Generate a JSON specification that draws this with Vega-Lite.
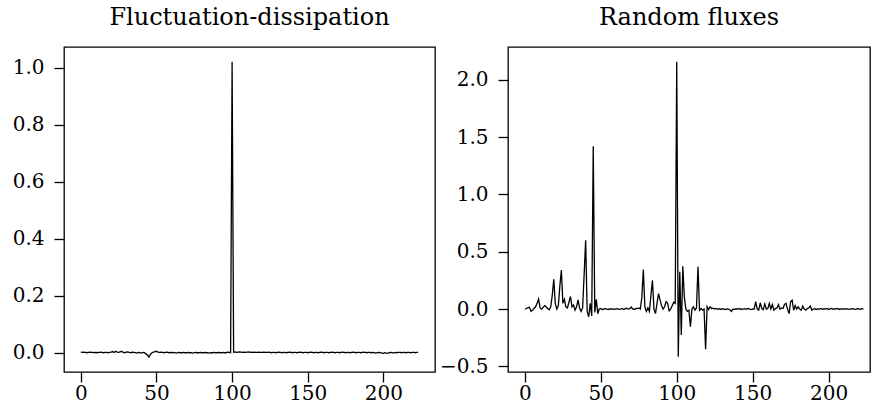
{
 "$schema": "https://vega.github.io/schema/vega-lite/v6.json",
 "padding": {"left": 5, "top": 5, "right": 0, "bottom": 0},
 "background": "white",
 "spacing": 2,
 "data": {"values": [
{"t":0,"fd":0.002,"rf":0.000},{"t":1,"fd":0.001,"rf":0.005},{"t":2,"fd":0.002,"rf":0.012},{"t":3,"fd":0.001,"rf":0.015},{"t":4,"fd":0.000,"rf":-0.020},
{"t":5,"fd":0.001,"rf":-0.008},{"t":6,"fd":0.002,"rf":0.005},{"t":7,"fd":0.001,"rf":0.020},{"t":8,"fd":0.001,"rf":0.050},{"t":9,"fd":0.000,"rf":0.087},
{"t":10,"fd":0.001,"rf":0.010},{"t":11,"fd":0.000,"rf":0.000},{"t":12,"fd":0.001,"rf":0.015},{"t":13,"fd":0.002,"rf":0.030},{"t":14,"fd":0.001,"rf":0.020},
{"t":15,"fd":0.000,"rf":0.005},{"t":16,"fd":0.001,"rf":-0.005},{"t":17,"fd":0.001,"rf":0.020},{"t":18,"fd":0.000,"rf":0.120},{"t":19,"fd":0.001,"rf":0.260},
{"t":20,"fd":0.002,"rf":0.050},{"t":21,"fd":0.004,"rf":0.000},{"t":22,"fd":0.001,"rf":0.030},{"t":23,"fd":0.005,"rf":0.200},{"t":24,"fd":0.002,"rf":0.340},
{"t":25,"fd":0.001,"rf":0.050},{"t":26,"fd":0.003,"rf":0.085},{"t":27,"fd":0.005,"rf":0.020},{"t":28,"fd":0.001,"rf":0.010},{"t":29,"fd":0.000,"rf":0.060},
{"t":30,"fd":0.002,"rf":0.110},{"t":31,"fd":0.003,"rf":0.020},{"t":32,"fd":0.001,"rf":0.035},{"t":33,"fd":0.000,"rf":-0.010},{"t":34,"fd":0.002,"rf":0.020},
{"t":35,"fd":0.001,"rf":0.080},{"t":36,"fd":0.000,"rf":0.010},{"t":37,"fd":-0.001,"rf":-0.020},{"t":38,"fd":0.001,"rf":0.010},{"t":39,"fd":0.000,"rf":0.300},
{"t":40,"fd":-0.001,"rf":0.600},{"t":41,"fd":0.001,"rf":-0.020},{"t":42,"fd":0.000,"rf":-0.067},{"t":43,"fd":-0.004,"rf":0.050},{"t":44,"fd":-0.008,"rf":-0.060},
{"t":45,"fd":-0.015,"rf":1.420},{"t":46,"fd":-0.006,"rf":-0.030},{"t":47,"fd":0.000,"rf":0.085},{"t":48,"fd":0.002,"rf":-0.040},{"t":49,"fd":0.004,"rf":0.000},
{"t":50,"fd":0.005,"rf":0.005},{"t":51,"fd":0.002,"rf":-0.005},{"t":52,"fd":0.001,"rf":0.002},{"t":53,"fd":0.002,"rf":0.004},{"t":54,"fd":0.001,"rf":0.000},
{"t":55,"fd":0.000,"rf":-0.004},{"t":56,"fd":0.001,"rf":0.003},{"t":57,"fd":0.002,"rf":0.000},{"t":58,"fd":0.000,"rf":0.002},{"t":59,"fd":0.001,"rf":-0.003},
{"t":60,"fd":0.000,"rf":0.001},{"t":61,"fd":0.001,"rf":0.004},{"t":62,"fd":0.000,"rf":-0.002},{"t":63,"fd":-0.001,"rf":0.000},{"t":64,"fd":0.000,"rf":0.005},
{"t":65,"fd":0.001,"rf":-0.004},{"t":66,"fd":0.000,"rf":0.002},{"t":67,"fd":0.000,"rf":0.008},{"t":68,"fd":0.001,"rf":0.000},{"t":69,"fd":0.000,"rf":0.003},
{"t":70,"fd":0.000,"rf":0.018},{"t":71,"fd":0.001,"rf":0.002},{"t":72,"fd":0.000,"rf":-0.003},{"t":73,"fd":0.000,"rf":0.006},{"t":74,"fd":-0.001,"rf":0.004},
{"t":75,"fd":0.000,"rf":0.010},{"t":76,"fd":0.001,"rf":0.000},{"t":77,"fd":0.000,"rf":0.100},{"t":78,"fd":0.000,"rf":0.346},{"t":79,"fd":0.001,"rf":0.020},
{"t":80,"fd":0.000,"rf":-0.020},{"t":81,"fd":0.000,"rf":0.010},{"t":82,"fd":0.001,"rf":-0.020},{"t":83,"fd":0.000,"rf":0.120},{"t":84,"fd":0.000,"rf":0.250},
{"t":85,"fd":-0.001,"rf":0.000},{"t":86,"fd":0.000,"rf":-0.040},{"t":87,"fd":0.000,"rf":0.050},{"t":88,"fd":0.001,"rf":0.135},{"t":89,"fd":0.000,"rf":0.080},
{"t":90,"fd":0.000,"rf":0.030},{"t":91,"fd":0.001,"rf":0.000},{"t":92,"fd":0.000,"rf":0.020},{"t":93,"fd":0.000,"rf":0.065},{"t":94,"fd":0.001,"rf":0.050},
{"t":95,"fd":0.000,"rf":-0.015},{"t":96,"fd":0.000,"rf":0.000},{"t":97,"fd":0.002,"rf":0.030},{"t":98,"fd":0.001,"rf":0.060},{"t":99,"fd":0.000,"rf":0.050},
{"t":100,"fd":1.021,"rf":2.158},{"t":101,"fd":0.002,"rf":-0.415},{"t":102,"fd":0.003,"rf":0.325},{"t":103,"fd":0.001,"rf":-0.226},{"t":104,"fd":0.002,"rf":0.374},
{"t":105,"fd":0.003,"rf":0.107},{"t":106,"fd":0.002,"rf":0.000},{"t":107,"fd":0.001,"rf":-0.020},{"t":108,"fd":0.002,"rf":-0.010},{"t":109,"fd":0.001,"rf":-0.154},
{"t":110,"fd":0.002,"rf":0.000},{"t":111,"fd":0.003,"rf":0.020},{"t":112,"fd":0.001,"rf":-0.010},{"t":113,"fd":0.002,"rf":0.010},{"t":114,"fd":0.001,"rf":0.369},
{"t":115,"fd":0.002,"rf":-0.010},{"t":116,"fd":0.001,"rf":0.005},{"t":117,"fd":0.001,"rf":-0.010},{"t":118,"fd":0.002,"rf":0.000},{"t":119,"fd":0.001,"rf":-0.351},
{"t":120,"fd":0.001,"rf":0.020},{"t":121,"fd":0.002,"rf":-0.005},{"t":122,"fd":0.001,"rf":0.020},{"t":123,"fd":0.001,"rf":0.005},{"t":124,"fd":0.002,"rf":0.008},
{"t":125,"fd":0.001,"rf":0.000},{"t":126,"fd":0.000,"rf":0.006},{"t":127,"fd":0.001,"rf":-0.002},{"t":128,"fd":0.001,"rf":0.004},{"t":129,"fd":0.000,"rf":-0.003},
{"t":130,"fd":0.001,"rf":0.003},{"t":131,"fd":0.002,"rf":0.000},{"t":132,"fd":0.001,"rf":-0.004},{"t":133,"fd":0.000,"rf":0.002},{"t":134,"fd":0.001,"rf":0.000},
{"t":135,"fd":0.001,"rf":-0.006},{"t":136,"fd":0.000,"rf":-0.020},{"t":137,"fd":0.001,"rf":0.000},{"t":138,"fd":0.002,"rf":-0.004},{"t":139,"fd":0.001,"rf":0.003},
{"t":140,"fd":0.000,"rf":0.000},{"t":141,"fd":0.001,"rf":0.005},{"t":142,"fd":0.001,"rf":-0.003},{"t":143,"fd":0.000,"rf":0.002},{"t":144,"fd":0.001,"rf":0.000},
{"t":145,"fd":0.002,"rf":0.004},{"t":146,"fd":0.001,"rf":-0.002},{"t":147,"fd":0.000,"rf":0.006},{"t":148,"fd":0.001,"rf":0.000},{"t":149,"fd":0.001,"rf":-0.004},
{"t":150,"fd":0.000,"rf":0.002},{"t":151,"fd":0.001,"rf":0.000},{"t":152,"fd":0.002,"rf":0.064},{"t":153,"fd":0.001,"rf":0.000},{"t":154,"fd":0.000,"rf":-0.010},
{"t":155,"fd":0.001,"rf":0.055},{"t":156,"fd":0.001,"rf":0.005},{"t":157,"fd":0.000,"rf":-0.005},{"t":158,"fd":0.001,"rf":0.045},{"t":159,"fd":0.002,"rf":0.000},
{"t":160,"fd":0.001,"rf":0.005},{"t":161,"fd":0.000,"rf":0.050},{"t":162,"fd":0.001,"rf":0.000},{"t":163,"fd":0.001,"rf":0.040},{"t":164,"fd":0.000,"rf":-0.010},
{"t":165,"fd":0.001,"rf":0.005},{"t":166,"fd":0.002,"rf":0.010},{"t":167,"fd":0.001,"rf":0.040},{"t":168,"fd":0.000,"rf":0.000},{"t":169,"fd":0.001,"rf":0.010},
{"t":170,"fd":0.001,"rf":0.005},{"t":171,"fd":0.000,"rf":0.040},{"t":172,"fd":0.001,"rf":0.050},{"t":173,"fd":0.002,"rf":0.000},{"t":174,"fd":0.001,"rf":-0.040},
{"t":175,"fd":0.000,"rf":0.064},{"t":176,"fd":0.001,"rf":0.078},{"t":177,"fd":0.001,"rf":-0.010},{"t":178,"fd":0.000,"rf":0.030},{"t":179,"fd":0.001,"rf":0.000},
{"t":180,"fd":0.002,"rf":0.020},{"t":181,"fd":0.001,"rf":0.000},{"t":182,"fd":0.000,"rf":-0.010},{"t":183,"fd":0.001,"rf":0.026},{"t":184,"fd":0.001,"rf":0.000},
{"t":185,"fd":0.000,"rf":-0.010},{"t":186,"fd":0.001,"rf":0.005},{"t":187,"fd":0.002,"rf":0.010},{"t":188,"fd":0.001,"rf":0.026},{"t":189,"fd":0.000,"rf":-0.010},
{"t":190,"fd":0.001,"rf":0.000},{"t":191,"fd":0.001,"rf":0.004},{"t":192,"fd":0.000,"rf":-0.003},{"t":193,"fd":0.001,"rf":0.002},{"t":194,"fd":0.000,"rf":0.000},
{"t":195,"fd":-0.001,"rf":0.006},{"t":196,"fd":0.000,"rf":-0.002},{"t":197,"fd":0.001,"rf":0.003},{"t":198,"fd":0.000,"rf":0.000},{"t":199,"fd":-0.001,"rf":0.005},
{"t":200,"fd":-0.002,"rf":-0.004},{"t":201,"fd":0.000,"rf":0.002},{"t":202,"fd":-0.001,"rf":0.006},{"t":203,"fd":-0.002,"rf":-0.002},{"t":204,"fd":0.000,"rf":0.004},
{"t":205,"fd":0.001,"rf":0.000},{"t":206,"fd":0.000,"rf":0.005},{"t":207,"fd":-0.001,"rf":-0.003},{"t":208,"fd":0.001,"rf":0.002},{"t":209,"fd":0.000,"rf":0.000},
{"t":210,"fd":0.001,"rf":0.004},{"t":211,"fd":0.001,"rf":-0.002},{"t":212,"fd":0.000,"rf":0.003},{"t":213,"fd":0.001,"rf":0.000},{"t":214,"fd":0.001,"rf":-0.003},
{"t":215,"fd":0.000,"rf":0.002},{"t":216,"fd":0.001,"rf":0.004},{"t":217,"fd":0.001,"rf":0.000},{"t":218,"fd":0.000,"rf":-0.002},{"t":219,"fd":0.001,"rf":0.003},
{"t":220,"fd":0.001,"rf":0.001},{"t":221,"fd":0.000,"rf":-0.002},{"t":222,"fd":0.001,"rf":0.004},{"t":223,"fd":0.001,"rf":0.002}
 ]},
 "config": {
  "font": "DejaVu Serif",
  "view": {"stroke": "black", "strokeWidth": 1.3},
  "axis": {"domain": false, "grid": false, "tickColor": "black", "tickSize": 10, "tickWidth": 1.3, "labelColor": "black", "labelFont": "DejaVu Serif", "labelFontSize": 20, "labelPadding": 10},
  "axisX": {"labelPadding": 1},
  "title": {"font": "DejaVu Serif", "fontSize": 24, "fontWeight": "normal", "color": "black", "baseline": "alphabetic", "offset": 17}
 },
 "hconcat": [
  {
   "width": 371, "height": 325,
   "title": "Fluctuation-dissipation",
   "mark": {"type": "line", "color": "black", "strokeWidth": 1.3, "clip": true},
   "encoding": {
    "x": {"field": "t", "type": "quantitative", "scale": {"domain": [-11.15, 234.15], "nice": false, "zero": false}, "axis": {"title": null, "values": [0, 50, 100, 150, 200], "labelFlush": false, "labelOverlap": false}},
    "y": {"field": "fd", "type": "quantitative", "scale": {"domain": [-0.0676, 1.0725], "nice": false, "zero": false}, "axis": {"title": null, "values": [0, 0.2, 0.4, 0.6, 0.8, 1.0], "format": ".1f", "minExtent": 58, "maxExtent": 58}}
   }
  },
  {
   "width": 362, "height": 325,
   "title": "Random fluxes",
   "mark": {"type": "line", "color": "black", "strokeWidth": 1.3, "clip": true},
   "encoding": {
    "x": {"field": "t", "type": "quantitative", "scale": {"domain": [-11.15, 227.3], "nice": false, "zero": false}, "axis": {"title": null, "values": [0, 50, 100, 150, 200], "labelFlush": false, "labelOverlap": false}},
    "y": {"field": "rf", "type": "quantitative", "scale": {"domain": [-0.549, 2.287], "nice": false, "zero": false}, "axis": {"title": null, "values": [-0.5, 0, 0.5, 1.0, 1.5, 2.0], "format": ".1f", "minExtent": 65, "maxExtent": 65}}
   }
  }
 ]
}
